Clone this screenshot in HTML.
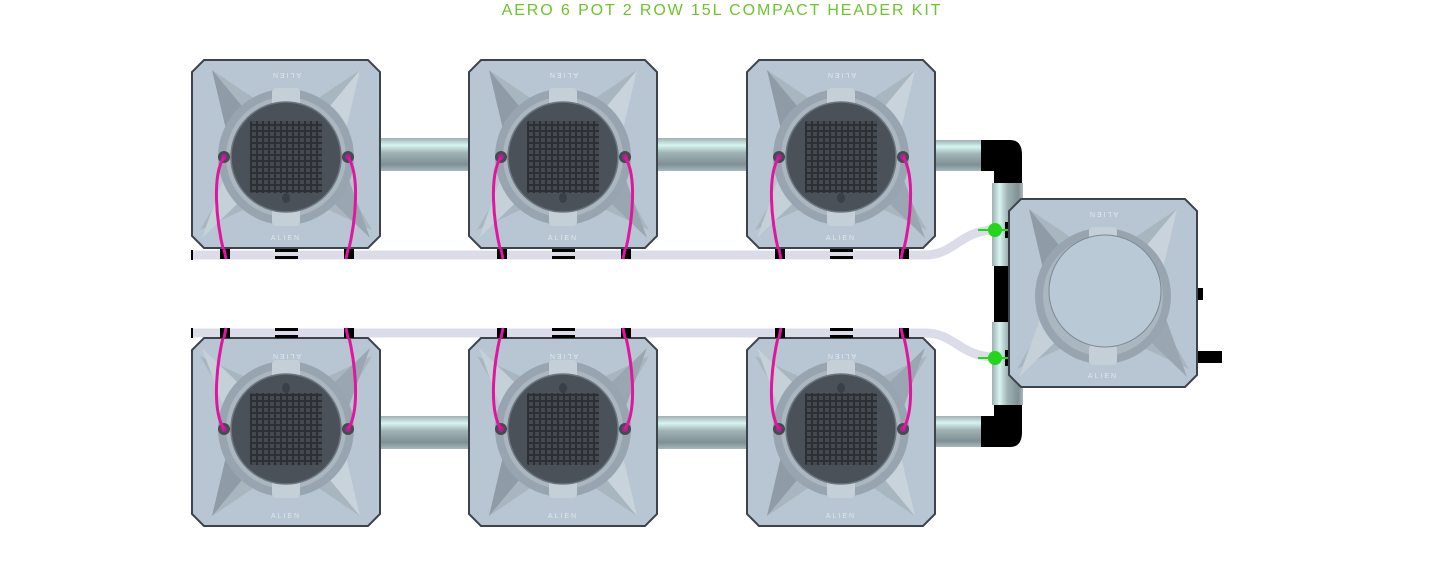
<!DOCTYPE html>
<html><head><meta charset="utf-8"><style>
html,body{margin:0;padding:0;background:#fff;width:1445px;height:572px;overflow:hidden}
svg{display:block}
</style></head><body>
<svg width="1445" height="572" viewBox="0 0 1445 572" xmlns="http://www.w3.org/2000/svg">
<defs>
<linearGradient id="pipeH" x1="0" y1="0" x2="0" y2="1">
<stop offset="0" stop-color="#9fb0b2"/><stop offset="0.22" stop-color="#d6f5f0"/><stop offset="0.45" stop-color="#9fb3b5"/><stop offset="0.8" stop-color="#7f9094"/><stop offset="1" stop-color="#a8b8bc"/></linearGradient>
<linearGradient id="pipeV" x1="0" y1="0" x2="1" y2="0">
<stop offset="0" stop-color="#9fb0b2"/><stop offset="0.25" stop-color="#d6f5f0"/><stop offset="0.5" stop-color="#9fb3b5"/><stop offset="0.85" stop-color="#7f9094"/><stop offset="1" stop-color="#a8b8bc"/></linearGradient>
<pattern id="grid" width="6" height="6" patternUnits="userSpaceOnUse">
<rect width="6" height="6" fill="#2c3035"/><rect x="0" y="0" width="4" height="4" fill="#454a51"/></pattern>
<g id="body">
<path d="M12,0 H176 L188,12 V176 L176,188 H12 L0,176 V12 Z" fill="#b7c6d2" stroke="#3c434b" stroke-width="2"/>
<path d="M20,10 L94,60 L168,10 L128,80 L180,170 L94,130 L8,170 L60,80 Z" fill="#a4b1bc" opacity="0.8"/>
<path d="M20,10 L70,70 L40,95 Z" fill="#8f9ba6"/>
<path d="M168,10 L118,70 L148,95 Z" fill="#c9d3dc"/>
<path d="M10,178 L70,120 L40,95 Z" fill="#c5d0d9"/>
<path d="M178,178 L118,120 L148,95 Z" fill="#9aa7b2"/>
<circle cx="94" cy="97" r="68" fill="#98a5b0"/>
<circle cx="94" cy="97" r="60" fill="#aab6c0"/>
<rect x="80" y="28" width="28" height="20" rx="4" fill="#c4cfd8"/>
<rect x="80" y="146" width="28" height="20" rx="4" fill="#c4cfd8"/>
</g>
<g id="pot">
<use href="#body"/>
<circle cx="94" cy="97" r="55" fill="#4a5159" stroke="#6d7780" stroke-width="1.5"/>
<rect x="58" y="61" width="72" height="72" fill="url(#grid)" rx="2"/>
<ellipse cx="94" cy="138" rx="4" ry="5" fill="#3a4047"/>
<circle cx="32" cy="97" r="6" fill="#454b52"/><circle cx="32" cy="97" r="3" fill="#b0208f"/>
<circle cx="156" cy="97" r="6" fill="#454b52"/><circle cx="156" cy="97" r="3" fill="#b0208f"/>
</g>
<g id="wires" fill="none" stroke="#e0169f" stroke-width="3">
<path d="M32,97 C20,115 24,160 32,193"/>
<path d="M156,97 C168,115 164,160 156,193"/>
</g>
</defs>

<text x="722" y="15" text-anchor="middle" font-family="Liberation Sans, sans-serif" font-size="16" fill="#6cc52a" letter-spacing="1.9">AERO 6 POT 2 ROW 15L COMPACT HEADER KIT</text>

<path d="M192,255 H925 C955,255 960,230 995,230" fill="none" stroke="#dcdce8" stroke-width="9"/>
<path d="M192,333 H925 C955,333 960,357 995,357" fill="none" stroke="#dcdce8" stroke-width="9"/>
<rect x="191" y="250" width="2" height="10" fill="#000"/>
<rect x="191" y="328" width="2" height="10" fill="#000"/>

<rect x="378" y="138" width="93" height="33" fill="url(#pipeH)"/>
<rect x="656" y="138" width="93" height="33" fill="url(#pipeH)"/>
<rect x="934" y="140" width="47" height="31" fill="url(#pipeH)"/>
<rect x="378" y="416" width="93" height="33" fill="url(#pipeH)"/>
<rect x="656" y="416" width="93" height="33" fill="url(#pipeH)"/>
<rect x="934" y="416" width="47" height="31" fill="url(#pipeH)"/>

<path d="M981,140 H1010 Q1022,140 1022,155 V185 H994 V171 H981 Z" fill="#000"/>
<path d="M981,447 H1010 Q1022,447 1022,432 V402 H994 V416 H981 Z" fill="#000"/>
<rect x="994" y="260" width="16" height="70" fill="#000"/>
<rect x="992" y="183" width="31" height="83" fill="url(#pipeV)"/>
<rect x="992" y="322" width="31" height="83" fill="url(#pipeV)"/>
<rect x="1005" y="222" width="8" height="16" fill="#000"/>
<rect x="1005" y="350" width="8" height="16" fill="#000"/>
<circle cx="995" cy="230" r="7" fill="#22d61a"/><rect x="978" y="229" width="30" height="2" fill="#22d61a"/>
<circle cx="995" cy="358" r="7" fill="#22d61a"/><rect x="978" y="357" width="30" height="2" fill="#22d61a"/>

<rect x="1195" y="288" width="8" height="12" fill="#000"/>
<rect x="1195" y="351" width="27" height="12" fill="#000"/>
<g transform="translate(1009,199)">
<use href="#body"/>
<circle cx="96" cy="92" r="56" fill="#b9c9d6" stroke="#7d8892" stroke-width="1"/>
<text x="94" y="19" text-anchor="middle" font-family="Liberation Sans, sans-serif" font-size="7" fill="#dfe7ee" transform="rotate(180 94 16)" letter-spacing="2">ALIEN</text>
<text x="94" y="179" text-anchor="middle" font-family="Liberation Sans, sans-serif" font-size="7" fill="#dfe7ee" letter-spacing="2">ALIEN</text>
</g>

<g transform="translate(192,60)"><use href="#pot"/><use href="#wires"/>
<text x="94" y="19" text-anchor="middle" font-family="Liberation Sans, sans-serif" font-size="7" fill="#dfe7ee" transform="rotate(180 94 16)" letter-spacing="2">ALIEN</text>
<text x="94" y="180" text-anchor="middle" font-family="Liberation Sans, sans-serif" font-size="7" fill="#dfe7ee" letter-spacing="2">ALIEN</text></g>
<g transform="translate(469,60)"><use href="#pot"/><use href="#wires"/>
<text x="94" y="19" text-anchor="middle" font-family="Liberation Sans, sans-serif" font-size="7" fill="#dfe7ee" transform="rotate(180 94 16)" letter-spacing="2">ALIEN</text>
<text x="94" y="180" text-anchor="middle" font-family="Liberation Sans, sans-serif" font-size="7" fill="#dfe7ee" letter-spacing="2">ALIEN</text></g>
<g transform="translate(747,60)"><use href="#pot"/><use href="#wires"/>
<text x="94" y="19" text-anchor="middle" font-family="Liberation Sans, sans-serif" font-size="7" fill="#dfe7ee" transform="rotate(180 94 16)" letter-spacing="2">ALIEN</text>
<text x="94" y="180" text-anchor="middle" font-family="Liberation Sans, sans-serif" font-size="7" fill="#dfe7ee" letter-spacing="2">ALIEN</text></g>

<g transform="translate(192,526) scale(1,-1)"><use href="#pot"/><use href="#wires"/></g>
<g transform="translate(469,526) scale(1,-1)"><use href="#pot"/><use href="#wires"/></g>
<g transform="translate(747,526) scale(1,-1)"><use href="#pot"/><use href="#wires"/></g>
<g font-family="Liberation Sans, sans-serif" font-size="7" fill="#dfe7ee" letter-spacing="2" text-anchor="middle">
<text x="286" y="360" transform="rotate(180 286 357)">ALIEN</text><text x="286" y="518">ALIEN</text>
<text x="563" y="360" transform="rotate(180 563 357)">ALIEN</text><text x="563" y="518">ALIEN</text>
<text x="841" y="360" transform="rotate(180 841 357)">ALIEN</text><text x="841" y="518">ALIEN</text>
</g>

<g fill="#000">
<rect x="220" y="249" width="10" height="10"/><rect x="344" y="249" width="10" height="10"/><rect x="275" y="249" width="23" height="3"/><rect x="275" y="256" width="23" height="3"/>
<rect x="497" y="249" width="10" height="10"/><rect x="621" y="249" width="10" height="10"/><rect x="552" y="249" width="23" height="3"/><rect x="552" y="256" width="23" height="3"/>
<rect x="775" y="249" width="10" height="10"/><rect x="899" y="249" width="10" height="10"/><rect x="830" y="249" width="23" height="3"/><rect x="830" y="256" width="23" height="3"/>
<rect x="220" y="328" width="10" height="10"/><rect x="344" y="328" width="10" height="10"/><rect x="275" y="328" width="23" height="3"/><rect x="275" y="335" width="23" height="3"/>
<rect x="497" y="328" width="10" height="10"/><rect x="621" y="328" width="10" height="10"/><rect x="552" y="328" width="23" height="3"/><rect x="552" y="335" width="23" height="3"/>
<rect x="775" y="328" width="10" height="10"/><rect x="899" y="328" width="10" height="10"/><rect x="830" y="328" width="23" height="3"/><rect x="830" y="335" width="23" height="3"/>
</g>
<g fill="none" stroke="#e0169f" stroke-width="3">
<path d="M224,249 L226,259"/><path d="M348,249 L346,259"/><path d="M501,249 L503,259"/><path d="M625,249 L623,259"/><path d="M779,249 L781,259"/><path d="M903,249 L901,259"/>
<path d="M224,338 L226,328"/><path d="M348,338 L346,328"/><path d="M501,338 L503,328"/><path d="M625,338 L623,328"/><path d="M779,338 L781,328"/><path d="M903,338 L901,328"/>
</g>
</svg>
</body></html>
